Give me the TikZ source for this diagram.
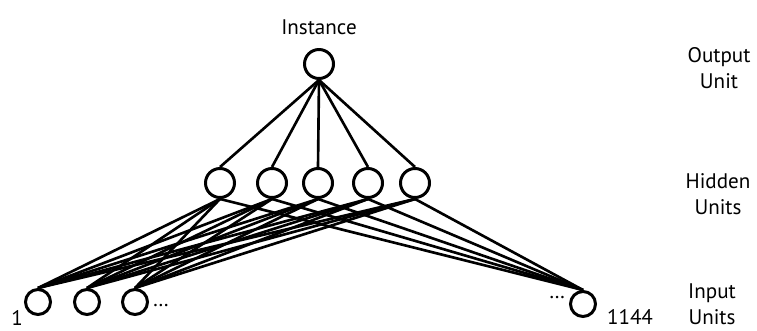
\documentclass[tikz,border=0pt]{standalone}
\usepackage{fontspec}
\setmainfont{PT Sans}
\usetikzlibrary{positioning}

\begin{document}
\begin{tikzpicture}[
    x=0.02cm, y=-0.02cm,
    unit/.style={circle, draw, line width=1.7pt, minimum size=0.58cm, inner sep=0pt},
    inunit/.style={unit, minimum size=0.5cm},
    link/.style={line width=1.5pt},
    layer/.style={align=center, font=\fontsize{12}{15}\selectfont},
    tag/.style={font=\fontsize{12}{14}\selectfont, inner sep=1pt}
]
\useasboundingbox (0,0) rectangle (757,331);

% Output unit
\node[unit] (out) at (319,64) {};
\node[tag, above=0.22cm of out] (inst) {Instance};

% Hidden units
\node[unit] (h1) at (220,183) {};
\node[unit] (h2) at (272,183) {};
\node[unit] (h3) at (318,183) {};
\node[unit] (h4) at (368,183) {};
\node[unit] (h5) at (415,183) {};

% Input units
\node[inunit] (i1) at (38,302) {};
\node[inunit] (i2) at (87,302) {};
\node[inunit] (i3) at (135,302) {};
\node[inunit] (iN) at (583,304) {};
\node[tag] (n1) at (17,318) {1};
\node[tag] (nN) at (630,317) {1144};
\node[tag, right=1pt of i3, yshift=-0.08cm] (dotsL) {\dots};
\node[tag, left=1pt of iN, yshift=0.12cm] (dotsR) {\dots};

% Layer names
\node[layer] (lout) at (719,68) {Output\\Unit};
\node[layer] (lhid) at (718,194) {Hidden\\Units};
\node[layer] (lin) at (712,304) {Input\\Units};

% Connections
\foreach \h in {h1,h2,h3,h4,h5}
    \draw[link] (out.south) -- (\h.north);
\foreach \i in {i1,i2,i3,iN}
    \foreach \h in {h1,h2,h3,h4,h5}
        \draw[link] (\i.north) -- (\h.south);
\end{tikzpicture}
\end{document}
